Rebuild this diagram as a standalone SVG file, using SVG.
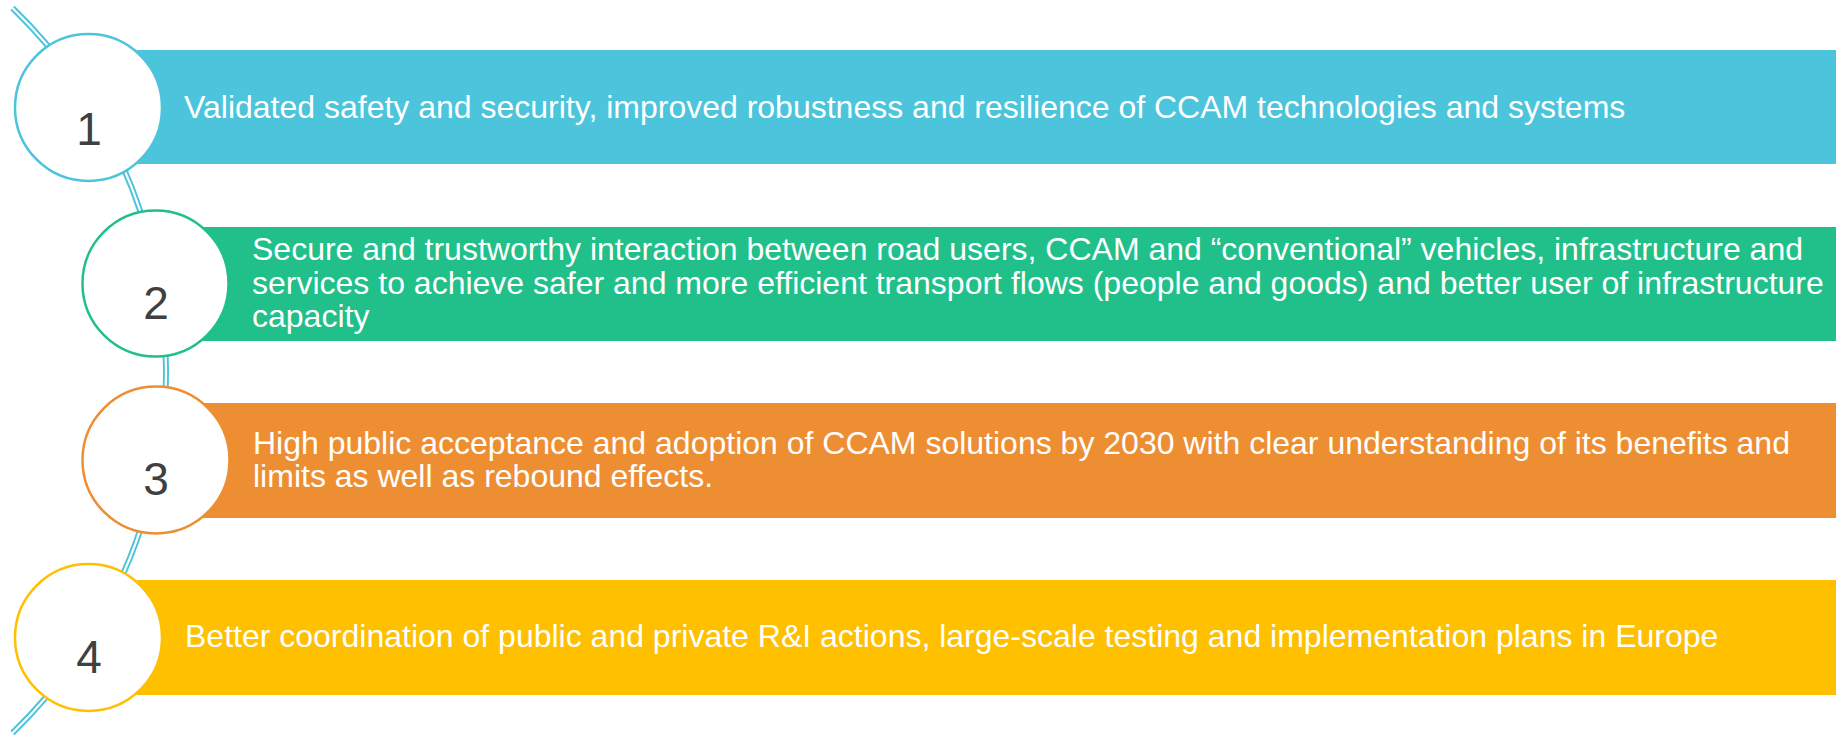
<svg xmlns="http://www.w3.org/2000/svg" width="1836" height="736" viewBox="0 0 1836 736">
<style>
.bar-text{font-family:"Liberation Sans",Arial,sans-serif;fill:#FFFFFF;font-size:32px}
.num{font-family:"Liberation Sans",Arial,sans-serif;font-size:46px;fill:#404040;text-anchor:middle}
.circ{fill:#FFFFFF;stroke-width:2.5}
</style>
<rect width="1836" height="736" fill="#FFFFFF"/>
<g id="connectors">
<path d="M 12.5 8 A 504.7 504.7 0 0 1 12.5 733" fill="none" stroke="#4BC3DC" stroke-width="6"/>
<path d="M 12.5 8 A 504.7 504.7 0 0 1 12.5 733" fill="none" stroke="#FFFFFF" stroke-width="2.2"/>
</g>
<g id="node1">
<rect x="137" y="50" width="1699" height="114" fill="#4BC4DC"/>
<circle class="circ" cx="88.5" cy="107.5" r="73.5" stroke="#4BC4DC"/>
<text class="num" x="89" y="145">1</text>
<text class="bar-text" x="184" y="118">Validated safety and security, improved robustness and resilience of CCAM technologies and systems</text>
</g>
<g id="node2">
<rect x="203" y="227" width="1633" height="114" fill="#21BF89"/>
<circle class="circ" cx="155.5" cy="283.5" r="73" stroke="#21BF89"/>
<text class="num" x="156" y="319">2</text>
<text class="bar-text">
<tspan x="252" y="260">Secure and trustworthy interaction between road users, CCAM and “conventional” vehicles, infrastructure and</tspan>
<tspan x="252" y="294">services to achieve safer and more efficient transport flows (people and goods) and better user of infrastructure</tspan>
<tspan x="252" y="327">capacity</tspan>
</text>
</g>
<g id="node3">
<rect x="203" y="403" width="1633" height="115" fill="#EE8E33"/>
<circle class="circ" cx="156" cy="460" r="73.5" stroke="#EE8E33"/>
<text class="num" x="156" y="495">3</text>
<text class="bar-text">
<tspan x="253" y="454">High public acceptance and adoption of CCAM solutions by 2030 with clear understanding of its benefits and</tspan>
<tspan x="253" y="487">limits as well as rebound effects.</tspan>
</text>
</g>
<g id="node4">
<rect x="137" y="580" width="1699" height="115" fill="#FFC000"/>
<circle class="circ" cx="88.5" cy="637.5" r="73.5" stroke="#FFC000"/>
<text class="num" x="89" y="673">4</text>
<text class="bar-text" x="185" y="647">Better coordination of public and private R&amp;I actions, large-scale testing and implementation plans in Europe</text>
</g>
</svg>
